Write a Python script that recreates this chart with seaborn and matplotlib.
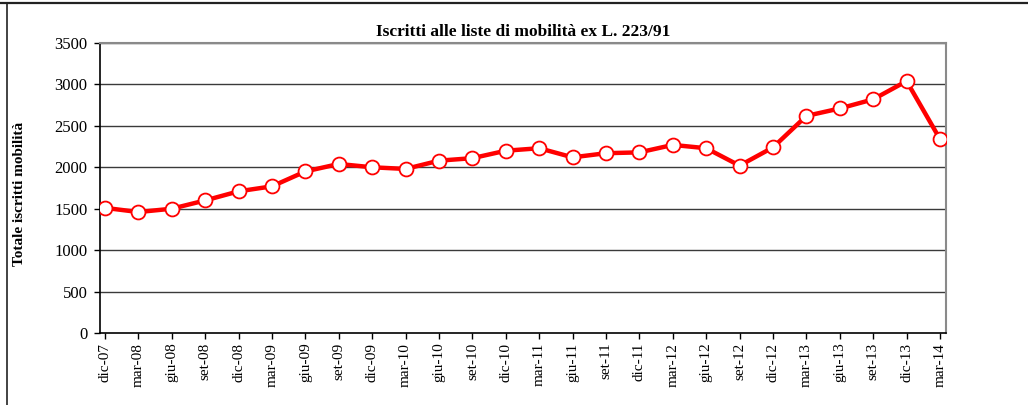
import matplotlib
matplotlib.use("Agg")
import matplotlib.pyplot as plt
from matplotlib.lines import Line2D
import seaborn as sns
import pandas as pd

periods = ["dic-07", "mar-08", "giu-08", "set-08", "dic-08", "mar-09", "giu-09",
           "set-09", "dic-09", "mar-10", "giu-10", "set-10", "dic-10", "mar-11",
           "giu-11", "set-11", "dic-11", "mar-12", "giu-12", "set-12", "dic-12",
           "mar-13", "giu-13", "set-13", "dic-13", "mar-14"]
iscritti = [1510, 1460, 1500, 1600, 1710, 1770, 1950, 2040, 2000, 1980, 2080,
            2110, 2200, 2230, 2120, 2170, 2180, 2270, 2230, 2020, 2240, 2620,
            2710, 2820, 3040, 2340]
y_ticks = [0, 500, 1000, 1500, 2000, 2500, 3000, 3500]

df = pd.DataFrame({"pos": range(len(periods)), "periodo": periods, "iscritti": iscritti})

sns.set_theme(style="white")
plt.rcParams["font.family"] = ["Liberation Serif", "DejaVu Serif"]

fig = plt.figure(figsize=(10.28, 4.05), dpi=100)
ax = fig.add_axes([100 / 1028, 1 - 333 / 405, 846 / 1028, 290 / 405])

for v in y_ticks[1:]:
    ax.axhline(v, color="#3a3a3a", lw=1.0, zorder=1)

sns.lineplot(data=df, x="pos", y="iscritti", ax=ax, color="#ff0000", lw=3.2,
             marker="o", markersize=10, markerfacecolor="white",
             markeredgecolor="#ff0000", markeredgewidth=1.3, zorder=3)

ax.set_xlim(-0.15, len(periods) - 1 + 0.18)
ax.set_ylim(0, 3500)
ax.set_yticks(y_ticks)
ax.set_yticklabels([str(v) for v in y_ticks], fontsize=12, color="black")
ax.set_xticks(range(len(periods)))
ax.set_xticklabels(periods, rotation=90, fontsize=11, color="black")
ax.tick_params(axis="both", which="both", length=4, width=1, color="black",
               direction="out", bottom=True, left=True)
ax.tick_params(axis="y", pad=5)
ax.tick_params(axis="x", pad=3)
ax.set_xlabel("")
ax.set_ylabel("Totale iscritti mobilità", fontsize=11, fontweight="bold",
              color="black", labelpad=0)
ax.yaxis.set_label_coords(-74 / 846, 0.48)
ax.set_title("Iscritti alle liste di mobilità ex L. 223/91", fontsize=12.5,
             fontweight="bold", color="black", pad=5)

for side in ["left", "bottom"]:
    ax.spines[side].set_color("black")
    ax.spines[side].set_linewidth(1.2)
for side in ["top", "right"]:
    ax.spines[side].set_color("#8a8a8a")
    ax.spines[side].set_linewidth(1.5)

# frame pieces of the surrounding page
fig.add_artist(Line2D([0, 1], [1 - 2.5 / 405, 1 - 2.5 / 405], transform=fig.transFigure,
                      color="#222222", lw=1.6))
fig.add_artist(Line2D([6.5 / 1028, 6.5 / 1028], [0, 1 - 2.5 / 405], transform=fig.transFigure,
                      color="#222222", lw=1.2))

fig.savefig("out.png", dpi=100, facecolor="white")
